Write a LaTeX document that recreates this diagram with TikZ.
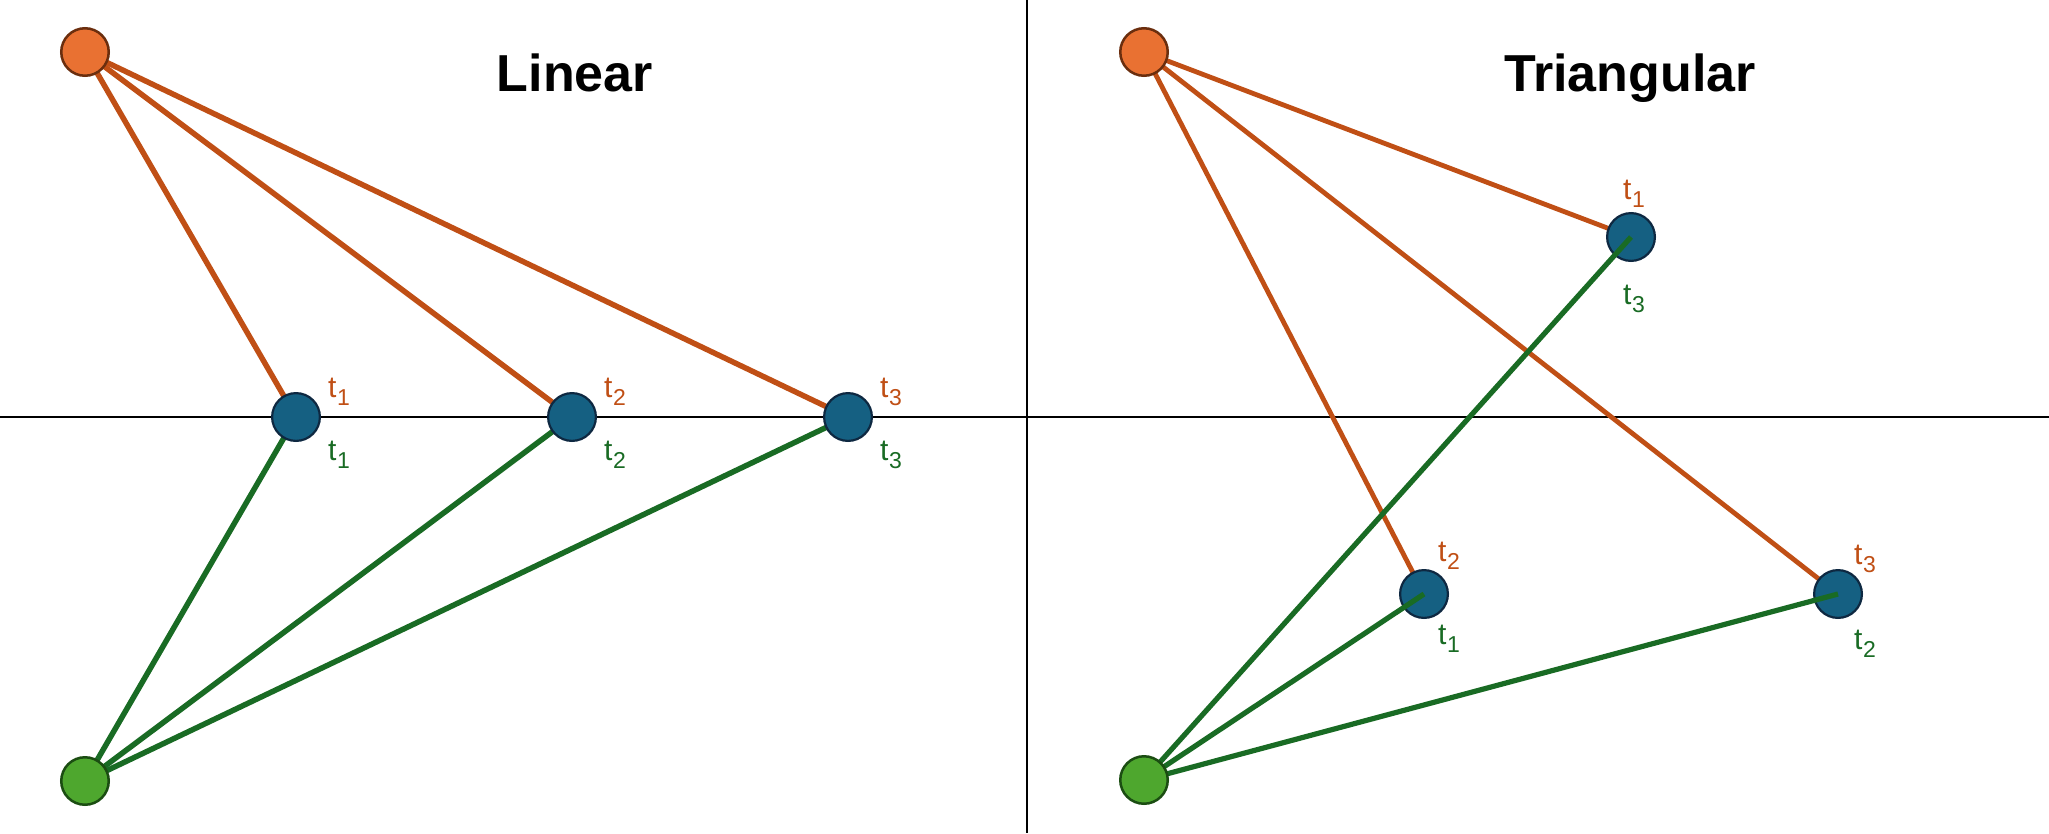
\documentclass[tikz,border=0pt]{standalone}
\usepackage{fontspec}
\setmainfont{Liberation Sans}
\definecolor{ofill}{HTML}{E97132}
\definecolor{odraw}{HTML}{6B2E0E}
\definecolor{oline}{HTML}{C04F15}
\definecolor{bfill}{HTML}{156082}
\definecolor{bdraw}{HTML}{0E2841}
\definecolor{gfill}{HTML}{4EA72E}
\definecolor{gdraw}{HTML}{1B4D12}
\definecolor{gline}{HTML}{196B24}
\pgfdeclarelayer{bg}
\pgfdeclarelayer{fg}
\pgfsetlayers{bg,main,fg}
\newcommand\tlab[1]{t\kern0.5pt\raisebox{-8pt}{\fontsize{23}{23}\selectfont #1}}
\tikzset{
  onode/.style={circle,fill=ofill,draw=odraw,line width=2.5pt,minimum size=47.5pt,inner sep=0pt},
  gnode/.style={circle,fill=gfill,draw=gdraw,line width=2.5pt,minimum size=47.5pt,inner sep=0pt},
  bnode/.style={circle,fill=bfill,draw=bdraw,line width=2.2pt,minimum size=47.8pt,inner sep=0pt},
  oedge/.style={draw=oline,line width=5.5pt},
  gedge/.style={draw=gline,line width=5.5pt},
  oedgeR/.style={draw=oline,line width=4.8pt},
  gedgeR/.style={draw=gline,line width=5.2pt},
  axis/.style={draw=black,line width=2.5pt},
  olab/.style={anchor=base west,inner sep=0pt,text=oline,font=\fontsize{30}{32}\selectfont},
  glab/.style={anchor=base west,inner sep=0pt,text=gline,font=\fontsize{30}{32}\selectfont},
  title/.style={anchor=base,inner sep=0pt,font=\fontsize{52}{56}\selectfont\bfseries}
}
\begin{document}
\begin{tikzpicture}[x=1pt,y=-1pt]
\useasboundingbox (0,0) rectangle (2049,833);
\begin{pgfonlayer}{bg}
\fill[white] (0,0) rectangle (2049,833);
\end{pgfonlayer}
% axes
\coordinate (hl) at (0,417);
\coordinate (hr) at (2049,417);
\coordinate (vt) at (1027,0);
\coordinate (vb) at (1027,833);
\begin{pgfonlayer}{bg}
\draw[axis] (hl) -- (hr);
\draw[axis] (vt) -- (vb);
\end{pgfonlayer}
% titles
\node[title] (tlin) at (575,91) {Linear};
\node[title] (ttri) at (1630,91) {Triangular};
% end nodes
\begin{pgfonlayer}{fg}
\node[onode] (oL) at (85,52) {};
\node[gnode] (gL) at (85,781) {};
\node[onode] (oR) at (1144,52) {};
\node[gnode] (gR) at (1144,780) {};
\end{pgfonlayer}
% time nodes
\node[bnode] (L1) at (296,417) {};
\node[bnode] (L2) at (572,417) {};
\node[bnode] (L3) at (848,417) {};
\node[bnode] (R1) at (1631,237) {};
\node[bnode] (R2) at (1424,594) {};
\node[bnode] (R3) at (1838,594) {};
% connectors
\begin{pgfonlayer}{bg}
\draw[oedge] (oL.center) -- (L1.center);
\draw[oedge] (oL.center) -- (L2.center);
\draw[oedge] (oL.center) -- (L3.center);
\draw[gedge] (gL.center) -- (L1.center);
\draw[gedge] (gL.center) -- (L2.center);
\draw[gedge] (gL.center) -- (L3.center);
\draw[oedgeR] (oR.center) -- (R1.center);
\draw[oedgeR] (oR.center) -- (R2.center);
\draw[oedgeR] (oR.center) -- (R3.center);
\end{pgfonlayer}
\draw[gedgeR] (gR.center) -- (R1.center);
\draw[gedgeR] (gR.center) -- (R2.center);
\draw[gedgeR] (gR.center) -- (R3.center);
% labels
\node[olab] (lo1) at (328,397) {\tlab{1}};
\node[glab] (lg1) at (328,460) {\tlab{1}};
\node[olab] (lo2) at (604,397) {\tlab{2}};
\node[glab] (lg2) at (604,460) {\tlab{2}};
\node[olab] (lo3) at (880,397) {\tlab{3}};
\node[glab] (lg3) at (880,460) {\tlab{3}};
\node[olab] (ro1) at (1623,199) {\tlab{1}};
\node[glab] (rg3) at (1623,304) {\tlab{3}};
\node[olab] (ro2) at (1438,561) {\tlab{2}};
\node[glab] (rg1) at (1438,644) {\tlab{1}};
\node[olab] (ro3) at (1854,564) {\tlab{3}};
\node[glab] (rg2) at (1854,649) {\tlab{2}};
\end{tikzpicture}
\end{document}
